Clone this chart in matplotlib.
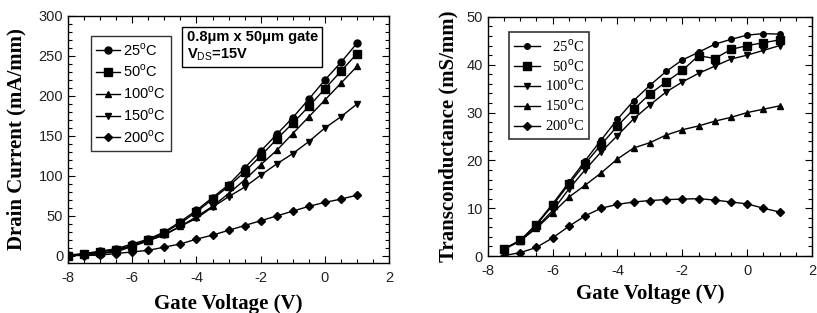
import numpy as np
import matplotlib.pyplot as plt
from matplotlib.ticker import MultipleLocator

# ---- data: drain current (left) ----
vg_id = [-8, -7.5, -7, -6.5, -6, -5.5, -5, -4.5, -4, -3.5, -3, -2.5, -2, -1.5, -1, -0.5, 0, 0.5, 1]
id_25 = [1, 3, 6, 9, 15, 21, 30, 43, 57, 73, 89, 110, 131, 152, 173, 196, 220, 242, 266]
id_50 = [0.5, 2, 5, 8, 13, 20, 29, 41, 55, 71, 87, 105, 125, 146, 166, 187, 209, 231, 253]
id_100 = [1, 2, 3, 7, 12, 19, 27, 37, 49, 62, 78, 95, 114, 132, 153, 174, 195, 216, 237]
id_150 = [0.5, 1, 3, 5, 12, 19, 26, 37, 47, 61, 74, 86, 101, 115, 128, 143, 160, 174, 190]
id_200 = [0.5, 0.5, 1, 3, 5, 7, 11, 15, 21, 26, 32, 38, 44, 50, 56, 62, 67, 71, 76]

# ---- data: transconductance (right) ----
vg_gm = [-7.5, -7, -6.5, -6, -5.5, -5, -4.5, -4, -3.5, -3, -2.5, -2, -1.5, -1, -0.5, 0, 0.5, 1]
gm_25 = [1.5, 3.2, 6.7, 10.9, 15.4, 19.9, 24.3, 28.6, 32.5, 35.7, 38.6, 41.0, 42.6, 44.3, 45.3, 46.2, 46.5, 46.4]
gm_50 = [1.5, 3.3, 6.5, 10.6, 15.0, 19.3, 23.3, 27.2, 30.7, 33.9, 36.4, 38.8, 41.9, 41.3, 43.2, 44.0, 44.6, 45.2]
gm_100 = [1.4, 3.2, 6.0, 9.5, 14.0, 18.0, 21.8, 25.2, 28.7, 31.6, 34.3, 36.4, 38.2, 39.7, 41.2, 42.0, 43.0, 44.0]
gm_150 = [1.4, 3.2, 5.8, 9.0, 12.3, 14.8, 17.4, 20.3, 22.6, 23.7, 25.3, 26.4, 27.2, 28.2, 29.0, 30.0, 30.7, 31.4]
gm_200 = [0.1, 0.7, 1.8, 3.8, 6.2, 8.4, 10.0, 10.8, 11.3, 11.6, 11.8, 11.9, 12.0, 11.7, 11.3, 10.9, 10.0, 9.2]

labels_left = ["25$^{\\rm o}$C", "50$^{\\rm o}$C", "100$^{\\rm o}$C", "150$^{\\rm o}$C", "200$^{\\rm o}$C"]
labels_right = ["  25$^{\\rm o}$C", "  50$^{\\rm o}$C", "100$^{\\rm o}$C", "150$^{\\rm o}$C", "200$^{\\rm o}$C"]

plt.rcParams["font.family"] = ["Liberation Sans", "DejaVu Sans"]
plt.rcParams["mathtext.fontset"] = "custom"
plt.rcParams["mathtext.rm"] = "Liberation Sans"
plt.rcParams["axes.unicode_minus"] = False

fig = plt.figure(figsize=(8.17, 3.13), dpi=100)
ax1 = fig.add_axes([0.0833, 0.160, 0.393, 0.789])
ax2 = fig.add_axes([0.597, 0.182, 0.397, 0.764])

serif = ["Liberation Serif", "DejaVu Serif"]


def style_axes(ax, ymin_step):
    ax.tick_params(which="both", direction="in", top=True, right=True, width=0.8,
                   labelsize=10.5, colors="black", labelcolor="#222222")
    ax.tick_params(which="major", length=5)
    ax.tick_params(which="minor", length=3)
    ax.tick_params(axis="x", pad=6)
    ax.xaxis.set_major_locator(MultipleLocator(2))
    ax.xaxis.set_minor_locator(MultipleLocator(0.5))
    ax.yaxis.set_minor_locator(MultipleLocator(ymin_step))
    for s in ax.spines.values():
        s.set_linewidth(1.0)


# ---- left: drain current ----
markers_l = ["o", "s", "^", "v", "D"]
sizes_l = [5, 6, 5, 5, 4]
for ys, m, ms, lab in zip([id_25, id_50, id_100, id_150, id_200], markers_l, sizes_l, labels_left):
    ax1.plot(vg_id, ys, color="black", lw=1.0, marker=m, ms=ms, label=lab)
ax1.set_xlim(-8, 2)
ax1.set_ylim(-8.75, 300)
ax1.yaxis.set_major_locator(MultipleLocator(50))
style_axes(ax1, 10)
ax1.set_xlabel("Gate Voltage (V)", family=serif, fontweight="bold", fontsize=15, labelpad=6)
ax1.set_ylabel("Drain Current (mA/mm)", family=serif, fontweight="bold", fontsize=15, labelpad=9)
leg1 = ax1.legend(loc="upper left", bbox_to_anchor=(0.07, 0.92), frameon=True, fancybox=False,
                  edgecolor="black", fontsize=10.5, handlelength=1.6, handletextpad=0.2,
                  labelspacing=0.35, borderpad=0.4, borderaxespad=0)
leg1.get_frame().set_linewidth(1.0)
ax1.text(0.37, 0.81, "0.8\u03bcm x 50\u03bcm gate\nV$_{\\rm DS}$=15V", transform=ax1.transAxes,
         fontsize=10.5, fontweight="bold", va="bottom", ha="left", linespacing=1.2,
         bbox=dict(boxstyle="square,pad=0.3", facecolor="white", edgecolor="black", linewidth=1.0))

# ---- right: transconductance ----
markers_r = ["o", "s", "v", "^", "D"]
sizes_r = [4, 6, 5, 5, 4]
for ys, m, ms, lab in zip([gm_25, gm_50, gm_100, gm_150, gm_200], markers_r, sizes_r, labels_right):
    ax2.plot(vg_gm, ys, color="black", lw=1.0, marker=m, ms=ms, label=lab)
ax2.set_xlim(-8, 2)
ax2.set_ylim(0, 50)
ax2.yaxis.set_major_locator(MultipleLocator(10))
style_axes(ax2, 2)
ax2.set_xlabel("Gate Voltage (V)", family=serif, fontweight="bold", fontsize=15, labelpad=4)
ax2.set_ylabel("Transconductance (mS/mm)", family=serif, fontweight="bold", fontsize=15, labelpad=6)
leg2 = ax2.legend(loc="upper left", bbox_to_anchor=(0.065, 0.935), frameon=True, fancybox=False,
                  edgecolor="black", prop={"family": serif, "size": 10.5}, handlelength=1.8,
                  handletextpad=0.3, labelspacing=0.22, borderpad=0.35, borderaxespad=0)
leg2.get_frame().set_linewidth(1.2)

fig.savefig("out.png", dpi=100)
plt.close(fig)
